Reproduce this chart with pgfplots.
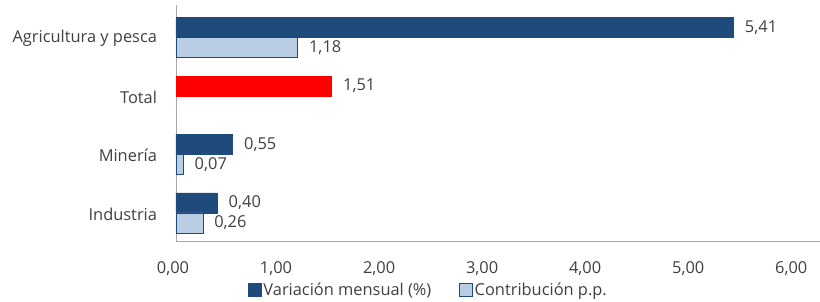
\documentclass[border=0pt]{standalone}
\usepackage{pgfplots}
\pgfplotsset{compat=1.18}
\usepackage{fontspec}
\setmainfont{Open Sans}
\definecolor{darkblue}{HTML}{1F4A7C}
\definecolor{lightblue}{HTML}{B9CDE5}
\definecolor{txt}{HTML}{404040}
\definecolor{axgray}{HTML}{A6A6A6}
\begin{document}
\begin{tikzpicture}
\useasboundingbox (-176pt,-60pt) rectangle (644pt,241pt);
\begin{axis}[
  at={(0pt,0pt)}, anchor=south west,
  scale only axis, width=644pt, height=236pt,
  xbar, bar width=20pt,
  xmin=0, xmax=6.25, ymin=-0.48, ymax=3.556,
  xtick={0,1,2,3,4,5,6},
  ytick={0,1,2,3},
  yticklabels={Industria, Minería, Total, Agricultura y pesca},
  axis x line*=bottom, axis y line*=left,
  axis line style={axgray, line width=0.8pt, -},
  major tick length=0pt,
  font=\fontsize{16.4}{19}\selectfont,
  every tick label/.append style={txt},
  xticklabel style={anchor=base, yshift=-32pt, xshift=-3pt},
  yticklabel style={anchor=east, xshift=-15.5pt, yshift=-1pt},
  /pgf/number format/.cd, use comma, fixed, fixed zerofill, precision=2, assume math mode=true,
  /pgfplots/.cd,
  point meta=x,
  nodes near coords,
  nodes near coords style={anchor=west, txt, xshift=8pt},
  legend columns=2,
  legend style={at={(0.392,-0.208)}, anchor=center, draw=none, fill=none,
    font=\fontsize{16.4}{19}\selectfont, text=txt,
    nodes={inner sep=2pt},
    /tikz/every even column/.append style={column sep=26pt}},
  legend image code/.code={\draw[#1] (0pt,-6.5pt) rectangle (13pt,6.5pt);},
  clip=false,
]
\addplot[fill=darkblue, draw=darkblue, bar shift=10pt] coordinates {(5.41,3) (0.55,1) (0.40,0)};
\addlegendentry{Variación mensual (\%)}
\addplot[fill=lightblue, draw=darkblue, bar shift=-10pt] coordinates {(1.18,3) (0.07,1) (0.26,0)};
\addlegendentry{Contribución p.p.}
\addplot[fill=red, draw=red, bar shift=10pt, forget plot] coordinates {(1.51,2)};
\end{axis}
\end{tikzpicture}
\end{document}
